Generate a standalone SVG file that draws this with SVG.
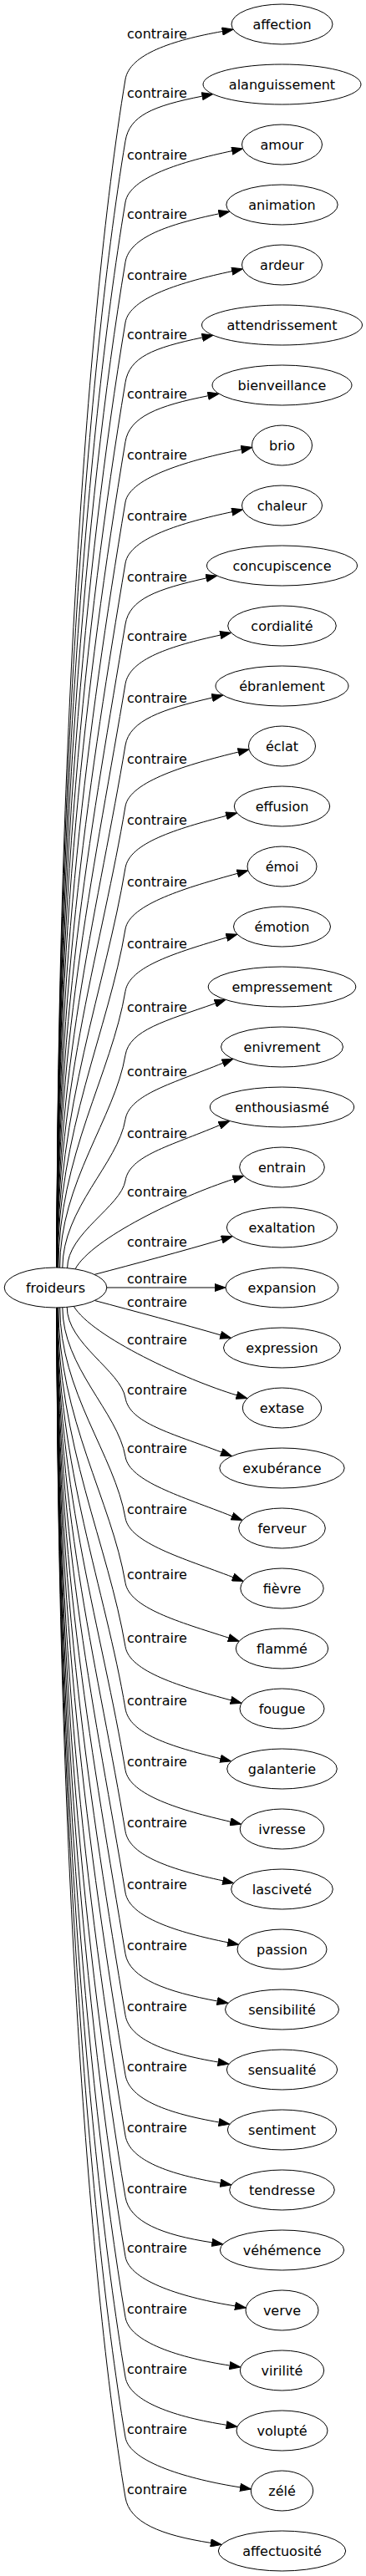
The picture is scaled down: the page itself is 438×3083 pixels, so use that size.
<svg xmlns="http://www.w3.org/2000/svg" width="438" height="3083" viewBox="0 0 438 3083">
<defs>
<marker id="arr" markerUnits="userSpaceOnUse" markerWidth="14" markerHeight="10" viewBox="0 0 14 10" refX="0.5" refY="5" orient="auto"><path d="M0.5,0.5 L13.5,5 L0.5,9.5 z" fill="#000" stroke="#000" stroke-width="1"/></marker>
</defs>
<style>
.e path{fill:none;stroke:#000;stroke-width:1;marker-end:url(#arr)}
.n ellipse{fill:#fff;stroke:#000;stroke-width:1}
text{font-family:"DejaVu Sans",sans-serif;font-size:16px;fill:#000;text-anchor:middle}
</style>
<rect x="0" y="0" width="438" height="3083" fill="#fff"/>
<g id="edges">
<g class="e" id="e0"><path d="M68,1517 C68,948.2 100.8,390.8 150,95 C155,65 206.3,48.2 266.3,37.5"/><text x="188" y="45.5">contraire</text></g>
<g class="e" id="e1"><path d="M68,1517 C68,977.7 100.8,464.5 150,168.7 C155,138.7 182.1,126.9 242.1,115.1"/><text x="188" y="117.2">contraire</text></g>
<g class="e" id="e2"><path d="M68,1517 C68,1007 100.8,537.8 150,242 C155,212 217.8,193.3 277.8,180.6"/><text x="188" y="190.5">contraire</text></g>
<g class="e" id="e3"><path d="M68,1517 C68,1035.7 100.8,609.5 150,313.7 C155,283.7 202.1,268.3 262.1,255.8"/><text x="188" y="262.2">contraire</text></g>
<g class="e" id="e4"><path d="M68,1517 C68,1064.6 100.8,681.8 150,386 C155,356 217.8,337.3 277.8,324.6"/><text x="188" y="334.5">contraire</text></g>
<g class="e" id="e5"><path d="M68,1517 C68,1093.3 100.8,753.5 150,457.7 C155,427.7 182.3,416.4 242.3,403.9"/><text x="188" y="406.2">contraire</text></g>
<g class="e" id="e6"><path d="M68,1517 C68,1121.7 101.4,821 150,528.7 C155,498.7 189.2,485.5 249.2,473.7"/><text x="188" y="477.2">contraire</text></g>
<g class="e" id="e7"><path d="M68,1517 C68,1150.6 104.9,872 150,601 C155,571 229,550 289,538"/><text x="188" y="549.5">contraire</text></g>
<g class="e" id="e8"><path d="M68,1517 C68,1179.8 108.5,923.4 150,674 C155,644 217.8,625.3 277.8,612.6"/><text x="188" y="622.5">contraire</text></g>
<g class="e" id="e9"><path d="M68,1517 C68,1209 112.1,974.8 150,747 C155,717 187,705.2 247,691.9"/><text x="188" y="695.5">contraire</text></g>
<g class="e" id="e10"><path d="M68,1517 C68,1237.7 115.6,1025.3 150,818.7 C155,788.7 203.9,773.1 263.9,760"/><text x="188" y="767.2">contraire</text></g>
<g class="e" id="e11"><path d="M68.2,1517 C68.2,1267 119.3,1076.9 150,892 C155,862 194.1,848.9 254.1,835"/><text x="188" y="840.5">contraire</text></g>
<g class="e" id="e12"><path d="M68.3,1517 C68.3,1296.2 122.8,1128.3 150,965 C155,935 225.4,914.6 285.4,900"/><text x="188" y="913.5">contraire</text></g>
<g class="e" id="e13"><path d="M68.6,1517 C68.6,1325.7 126.5,1180.2 150,1038.7 C155,1008.7 211,992.1 271,976.3"/><text x="188" y="987.2">contraire</text></g>
<g class="e" id="e14"><path d="M69,1517 C69,1355 130.1,1231.8 150,1112 C155,1082 224.3,1062 284.3,1045.3"/><text x="188" y="1060.5">contraire</text></g>
<g class="e" id="e15"><path d="M69.9,1517 C69.9,1384.7 133.7,1284.1 150,1186.3 C155,1156.3 211.4,1140.1 271.4,1121.9"/><text x="188" y="1134.8">contraire</text></g>
<g class="e" id="e16"><path d="M71.6,1517.1 C71.6,1415.3 137.5,1337.9 150,1262.7 C155,1232.7 197.8,1221.9 257.8,1200.8"/><text x="188" y="1211.2">contraire</text></g>
<g class="e" id="e17"><path d="M74.8,1517.2 C74.8,1446.3 141.3,1392.2 150,1339.7 C155,1309.7 206.9,1296.7 266.9,1272.2"/><text x="188" y="1288.2">contraire</text></g>
<g class="e" id="e18"><path d="M80.6,1517.6 C80.6,1476 144.9,1443.8 150,1413 C155,1383 202.9,1371.9 262.9,1346.6"/><text x="188" y="1361.5">contraire</text></g>
<g class="e" id="e19"><path d="M90,1518.8 C110,1482 215,1432 279.5,1411.2"/><text x="188" y="1431.5">contraire</text></g>
<g class="e" id="e20"><path d="M113,1525.4 C160,1513 220,1497 265.7,1483.4"/><text x="188" y="1491.5">contraire</text></g>
<g class="e" id="e21"><path d="M127.8,1541 L257,1541"/><text x="188" y="1535.5">contraire</text></g>
<g class="e" id="e22"><path d="M113.3,1556.5 C160,1569 220,1585 264.2,1597.9"/><text x="188" y="1563.5">contraire</text></g>
<g class="e" id="e23"><path d="M88.3,1563.4 C110,1600 223.5,1651.9 283.5,1669.9"/><text x="188" y="1608.5">contraire</text></g>
<g class="e" id="e24"><path d="M80.2,1564.4 C80.2,1607.8 144.7,1640.9 150,1673 C155,1703 205.3,1715.4 265.3,1738.1"/><text x="188" y="1668.5">contraire</text></g>
<g class="e" id="e25"><path d="M74.8,1564.8 C74.8,1636.2 141.2,1690.5 150,1743.3 C155,1773.3 217.9,1790.9 277.9,1814.7"/><text x="188" y="1738.8">contraire</text></g>
<g class="e" id="e26"><path d="M71.7,1564.9 C71.7,1665.6 137.6,1742.3 150,1816.7 C155,1846.7 219,1864.8 279,1887.7"/><text x="188" y="1812.2">contraire</text></g>
<g class="e" id="e27"><path d="M69.9,1565 C69.9,1696.7 133.8,1796.9 150,1894.3 C155,1924.3 213.8,1941 273.8,1960.2"/><text x="188" y="1889.8">contraire</text></g>
<g class="e" id="e28"><path d="M69,1565 C69,1727.3 130,1850.7 150,1970.7 C155,2000.7 216.5,2018.7 276.5,2034.9"/><text x="188" y="1966.2">contraire</text></g>
<g class="e" id="e29"><path d="M68.5,1565 C68.5,1757 126.4,1903 150,2045 C155,2075 204,2090.2 264,2104.8"/><text x="188" y="2040.5">contraire</text></g>
<g class="e" id="e30"><path d="M68.3,1565 C68.3,1786.3 122.8,1954.6 150,2118.3 C155,2148.3 216,2166.5 276,2180.3"/><text x="188" y="2113.8">contraire</text></g>
<g class="e" id="e31"><path d="M68.2,1565 C68.2,1815.7 119.2,2006.3 150,2191.7 C155,2221.7 206.9,2238 266.9,2250.9"/><text x="188" y="2187.2">contraire</text></g>
<g class="e" id="e32"><path d="M68.1,1565 C68.1,1845 115.6,2058 150,2265 C155,2295 212.8,2312.8 272.8,2324.8"/><text x="188" y="2260.5">contraire</text></g>
<g class="e" id="e33"><path d="M68,1565 C68,1874.3 112,2109.5 150,2338.3 C155,2368.3 200.2,2383.9 260.2,2395"/><text x="188" y="2333.8">contraire</text></g>
<g class="e" id="e34"><path d="M68,1565 C68,1903.7 108.3,2161.3 150,2411.7 C155,2441.7 201.2,2457.8 261.2,2468"/><text x="188" y="2407.2">contraire</text></g>
<g class="e" id="e35"><path d="M68,1565 C68,1932.3 104.8,2211.7 150,2483.3 C155,2513.3 202.2,2529.5 262.2,2540"/><text x="188" y="2478.8">contraire</text></g>
<g class="e" id="e36"><path d="M68,1565 C68,1961.4 101.2,2262.9 150,2556 C155,2586 204,2602.7 264,2612.7"/><text x="188" y="2551.5">contraire</text></g>
<g class="e" id="e37"><path d="M68,1565 C68,1990.7 100.8,2333.5 150,2629.3 C155,2659.3 193.9,2674.7 253.9,2683.9"/><text x="188" y="2624.8">contraire</text></g>
<g class="e" id="e38"><path d="M68,1565 C68,2019.3 100.8,2404.9 150,2700.7 C155,2730.7 221.5,2750.4 281.5,2759.9"/><text x="188" y="2696.2">contraire</text></g>
<g class="e" id="e39"><path d="M68,1565 C68,2048.3 100.8,2477.5 150,2773.3 C155,2803.3 215.1,2822 275.1,2831.1"/><text x="188" y="2768.8">contraire</text></g>
<g class="e" id="e40"><path d="M68,1565 C68,2077 100.8,2549.2 150,2845 C155,2875 211.2,2893 271.2,2902.3"/><text x="188" y="2840.5">contraire</text></g>
<g class="e" id="e41"><path d="M68,1565 C68,2105.8 100.8,2621.2 150,2917 C155,2947 227.6,2967.6 287.6,2976.9"/><text x="188" y="2912.5">contraire</text></g>
<g class="e" id="e42"><path d="M68,1565 C68,2134.6 100.8,2693.2 150,2989 C155,3019 192.4,3034.1 252.4,3043.4"/><text x="188" y="2984.5">contraire</text></g>
</g>
<g id="nodes">
<g class="n" id="froideurs"><ellipse cx="66.5" cy="1541" rx="61.3" ry="24"/><text x="66.5" y="1547">froideurs</text></g>
<g class="n" id="n0"><ellipse cx="337.5" cy="29" rx="60.5" ry="24"/><text x="337.5" y="35">affection</text></g>
<g class="n" id="n1"><ellipse cx="337.5" cy="101" rx="94.5" ry="24"/><text x="337.5" y="107">alanguissement</text></g>
<g class="n" id="n2"><ellipse cx="337.5" cy="173" rx="48" ry="24"/><text x="337.5" y="179">amour</text></g>
<g class="n" id="n3"><ellipse cx="337.5" cy="245" rx="66.7" ry="24"/><text x="337.5" y="251">animation</text></g>
<g class="n" id="n4"><ellipse cx="337.5" cy="317" rx="48" ry="24"/><text x="337.5" y="323">ardeur</text></g>
<g class="n" id="n5"><ellipse cx="337.5" cy="389" rx="96" ry="24"/><text x="337.5" y="395">attendrissement</text></g>
<g class="n" id="n6"><ellipse cx="337.5" cy="461" rx="83.5" ry="24"/><text x="337.5" y="467">bienveillance</text></g>
<g class="n" id="n7"><ellipse cx="337.5" cy="533" rx="36" ry="24"/><text x="337.5" y="539">brio</text></g>
<g class="n" id="n8"><ellipse cx="337.5" cy="605" rx="48" ry="24"/><text x="337.5" y="611">chaleur</text></g>
<g class="n" id="n9"><ellipse cx="337.5" cy="677" rx="90" ry="24"/><text x="337.5" y="683">concupiscence</text></g>
<g class="n" id="n10"><ellipse cx="337.5" cy="749" rx="64.8" ry="24"/><text x="337.5" y="755">cordialité</text></g>
<g class="n" id="n11"><ellipse cx="337.5" cy="821" rx="79.5" ry="24"/><text x="337.5" y="827">ébranlement</text></g>
<g class="n" id="n12"><ellipse cx="337.5" cy="893" rx="40" ry="24"/><text x="337.5" y="899">éclat</text></g>
<g class="n" id="n13"><ellipse cx="337.5" cy="965" rx="57.2" ry="24"/><text x="337.5" y="971">effusion</text></g>
<g class="n" id="n14"><ellipse cx="337.5" cy="1037" rx="41.5" ry="24"/><text x="337.5" y="1043">émoi</text></g>
<g class="n" id="n15"><ellipse cx="337.5" cy="1109" rx="58" ry="24"/><text x="337.5" y="1115">émotion</text></g>
<g class="n" id="n16"><ellipse cx="337.5" cy="1181" rx="88.3" ry="24"/><text x="337.5" y="1187">empressement</text></g>
<g class="n" id="n17"><ellipse cx="337.5" cy="1253" rx="73" ry="24"/><text x="337.5" y="1259">enivrement</text></g>
<g class="n" id="n18"><ellipse cx="337.5" cy="1325" rx="86.2" ry="24"/><text x="337.5" y="1331">enthousiasmé</text></g>
<g class="n" id="n19"><ellipse cx="337.5" cy="1397" rx="50.8" ry="24"/><text x="337.5" y="1403">entrain</text></g>
<g class="n" id="n20"><ellipse cx="337.5" cy="1469" rx="66.2" ry="24"/><text x="337.5" y="1475">exaltation</text></g>
<g class="n" id="n21"><ellipse cx="337.5" cy="1541" rx="67.5" ry="24"/><text x="337.5" y="1547">expansion</text></g>
<g class="n" id="n22"><ellipse cx="337.5" cy="1613" rx="70" ry="24"/><text x="337.5" y="1619">expression</text></g>
<g class="n" id="n23"><ellipse cx="337.5" cy="1685" rx="47.2" ry="24"/><text x="337.5" y="1691">extase</text></g>
<g class="n" id="n24"><ellipse cx="337.5" cy="1757" rx="74.7" ry="24"/><text x="337.5" y="1763">exubérance</text></g>
<g class="n" id="n25"><ellipse cx="337.5" cy="1829" rx="51.8" ry="24"/><text x="337.5" y="1835">ferveur</text></g>
<g class="n" id="n26"><ellipse cx="337.5" cy="1901" rx="49.7" ry="24"/><text x="337.5" y="1907">fièvre</text></g>
<g class="n" id="n27"><ellipse cx="337.5" cy="1973" rx="55.2" ry="24"/><text x="337.5" y="1979">flammé</text></g>
<g class="n" id="n28"><ellipse cx="337.5" cy="2045" rx="50.5" ry="24"/><text x="337.5" y="2051">fougue</text></g>
<g class="n" id="n29"><ellipse cx="337.5" cy="2117" rx="65.8" ry="24"/><text x="337.5" y="2123">galanterie</text></g>
<g class="n" id="n30"><ellipse cx="337.5" cy="2189" rx="50.3" ry="24"/><text x="337.5" y="2195">ivresse</text></g>
<g class="n" id="n31"><ellipse cx="337.5" cy="2261" rx="60.8" ry="24"/><text x="337.5" y="2267">lasciveté</text></g>
<g class="n" id="n32"><ellipse cx="337.5" cy="2333" rx="53.5" ry="24"/><text x="337.5" y="2339">passion</text></g>
<g class="n" id="n33"><ellipse cx="337.5" cy="2405" rx="68" ry="24"/><text x="337.5" y="2411">sensibilité</text></g>
<g class="n" id="n34"><ellipse cx="337.5" cy="2477" rx="66.2" ry="24"/><text x="337.5" y="2483">sensualité</text></g>
<g class="n" id="n35"><ellipse cx="337.5" cy="2549" rx="65.2" ry="24"/><text x="337.5" y="2555">sentiment</text></g>
<g class="n" id="n36"><ellipse cx="337.5" cy="2621" rx="62.8" ry="24"/><text x="337.5" y="2627">tendresse</text></g>
<g class="n" id="n37"><ellipse cx="337.5" cy="2693" rx="74.2" ry="24"/><text x="337.5" y="2699">véhémence</text></g>
<g class="n" id="n38"><ellipse cx="337.5" cy="2765" rx="43.5" ry="24"/><text x="337.5" y="2771">verve</text></g>
<g class="n" id="n39"><ellipse cx="337.5" cy="2837" rx="50.2" ry="24"/><text x="337.5" y="2843">virilité</text></g>
<g class="n" id="n40"><ellipse cx="337.5" cy="2909" rx="54.5" ry="24"/><text x="337.5" y="2915">volupté</text></g>
<g class="n" id="n41"><ellipse cx="337.5" cy="2981" rx="37.2" ry="24"/><text x="337.5" y="2987">zélé</text></g>
<g class="n" id="n42"><ellipse cx="337.5" cy="3053" rx="76.2" ry="24"/><text x="337.5" y="3059">affectuosité</text></g>
</g>
</svg>
